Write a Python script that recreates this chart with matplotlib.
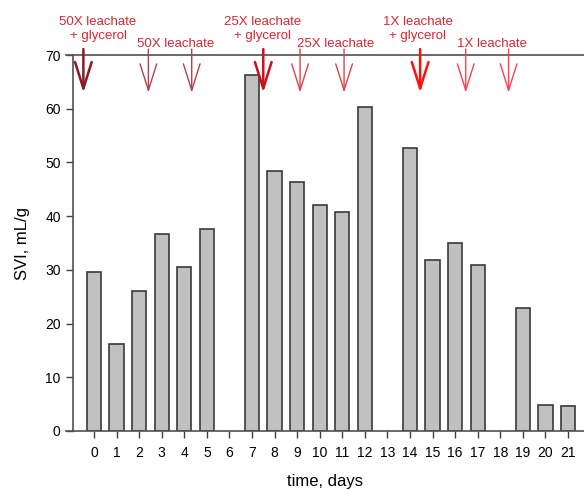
import matplotlib
matplotlib.use("Agg")
import matplotlib.pyplot as plt

plt.rcParams['font.family'] = ['Liberation Sans', 'DejaVu Sans']

days = [0, 1, 2, 3, 4, 5, 7, 8, 9, 10, 11, 12, 14, 15, 16, 17, 19, 20, 21]
svi = [29.6, 16.2, 26.1, 36.7, 30.5, 37.6, 66.3, 48.4, 46.4, 42.1, 40.8, 60.3,
       52.7, 31.8, 35.0, 30.9, 22.9, 4.8, 4.65]
tick_days = list(range(0, 22))

# treatment arrows (day position)
arrow_x = [-0.47, 2.41, 4.33, 7.50, 9.13, 11.08, 14.45, 16.47, 18.37]
arrow_col = ['#8b1a22', '#b4404c', '#b4404c', '#cc1020', '#e0404c', '#e0404c',
             '#ff1010', '#ff4050', '#ff4050']
arrow_lw = [1.8, 1.0, 1.0, 1.8, 1.0, 1.0, 1.8, 1.0, 1.0]

labels = ["50X leachate\n+ glycerol", "50X leachate", "25X leachate\n+ glycerol",
          "25X leachate", "1X leachate\n+ glycerol", "1X leachate"]
label_x = [0.18, 3.62, 7.47, 10.71, 14.34, 17.63]

fig = plt.figure(figsize=(5.84, 4.91), dpi=100)
ax = fig.add_axes([66/584, 60/491, 518/584, 376/491])

ax.bar(days, svi, width=0.63, color='#c0c0c0', edgecolor='#3a3a3a', linewidth=1.2, zorder=2)

ax.set_xlim(-1.24, 21.71)
ax.set_ylim(0, 70)
ax.set_xticks(tick_days)
ax.set_xticklabels([str(d) for d in tick_days], fontsize=10)
ax.set_yticks(range(0, 71, 10))
ax.tick_params(axis='both', labelsize=10, length=5, width=1, color='#404040', direction='out')
ax.tick_params(axis='x', pad=6)

for s in ['left', 'bottom', 'top']:
    ax.spines[s].set_color('#505050')
    ax.spines[s].set_linewidth(1.2)
ax.spines['right'].set_visible(False)
ax.spines['left'].set_position(('data', -0.95))

ax.set_xlabel('time, days', fontsize=12, labelpad=10)
ax.set_ylabel('SVI, mL/g', fontsize=12, labelpad=11)

for x, c, lw in zip(arrow_x, arrow_col, arrow_lw):
    ax.annotate('', xy=(x, 63.0), xytext=(x, 71.1), xycoords='data',
                arrowprops=dict(arrowstyle='->,head_length=1.9,head_width=0.6',
                                color=c, lw=lw, mutation_scale=10,
                                shrinkA=0, shrinkB=0),
                annotation_clip=False, zorder=5)

label_y = [72.5, 71.0, 72.5, 71.0, 72.5, 71.0]
for t, x, y in zip(labels, label_x, label_y):
    ax.text(x, y, t, color='#e0252e', fontsize=9.5, ha='center', va='bottom',
            linespacing=1.2, clip_on=False)

fig.savefig('out.png', dpi=100)
